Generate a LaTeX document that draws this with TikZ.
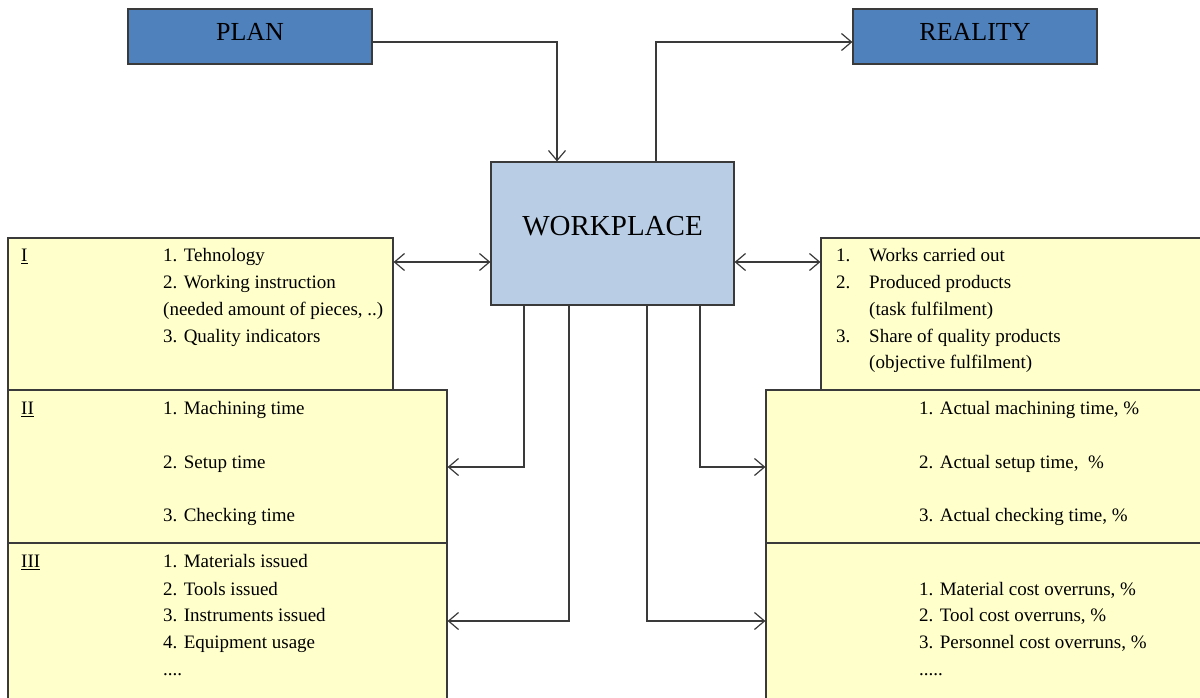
\documentclass[tikz,border=0pt]{standalone}
\usepackage{fontspec}
\setmainfont{Liberation Serif}
\usetikzlibrary{arrows.meta}
\definecolor{planblue}{HTML}{4F81BD}
\definecolor{wpblue}{HTML}{B9CDE5}
\definecolor{boxyellow}{HTML}{FFFFCC}
\definecolor{edge}{HTML}{3A3A3A}
\tikzset{
  topbox/.style={draw=edge, line width=1.2pt, fill=planblue, minimum width=244pt, minimum height=55pt, inner sep=0pt},
  wpbox/.style={draw=edge, line width=1.2pt, fill=wpblue, minimum width=243pt, minimum height=143pt, inner sep=0pt},
  ybox/.style={draw=edge, line width=1.2pt, fill=boxyellow, inner sep=0pt},
  big/.style={font=\fontsize{26}{30}\selectfont, inner sep=0pt},
  item/.style={anchor=west, font=\fontsize{19}{22}\selectfont, inner sep=0pt, text height=12.5pt, text depth=4pt},
  conn/.style={draw=edge, line width=1.1pt},
  tip/.style={-{Straight Barb[length=10pt,width=17pt,line width=1.2pt]}},
  tips/.style={{Straight Barb[length=10pt,width=17pt,line width=1.2pt]}-{Straight Barb[length=10pt,width=17pt,line width=1.2pt]}}
}
\begin{document}
\begin{tikzpicture}[x=1pt,y=-1pt]
\useasboundingbox (0,0) rectangle (1200,697);
% top boxes
\node[topbox] (PLAN) at (250,36.5) {};
\node[big] (plant) at (250,32) {PLAN};
\node[topbox] (REAL) at (975,36.5) {};
\node[big] (realt) at (975,32) {REALITY};
% workplace
\node[wpbox] (WP) at (612.5,233.5) {};
\node[font=\fontsize{29}{33}\selectfont, inner sep=0pt] (wpt) at (612.5,226) {WORKPLACE};
% left boxes
\node[ybox, minimum width=385pt, minimum height=152pt] (B1) at (200.5,314) {};
\node[ybox, minimum width=439pt, minimum height=153pt] (B2) at (227.5,466.5) {};
\node[ybox, minimum width=439pt, minimum height=160pt] (B3) at (227.5,623) {};
% right boxes
\node[ybox, minimum width=384pt, minimum height=152pt] (R1) at (1013,314) {};
\node[ybox, minimum width=439pt, minimum height=153pt] (R2) at (985.5,466.5) {};
\node[ybox, minimum width=439pt, minimum height=160pt] (R3) at (985.5,623) {};
% left texts
\node[item] (n1) at (21,257.5) {\underline{I}};
\node[item] (l11) at (163,257.5) {1. Tehnology};
\node[item] (l12) at (163,284.5) {2. Working instruction};
\node[item] (l13) at (163,311.5) {(needed amount of pieces, ..)};
\node[item] (l14) at (163,338.5) {3. Quality indicators};
\node[item] (n2) at (21,410.5) {\underline{II}};
\node[item] (l21) at (163,410.5) {1. Machining time};
\node[item] (l22) at (163,464.5) {2. Setup time};
\node[item] (l23) at (163,517.5) {3. Checking time};
\node[item] (n3) at (21,563.5) {\underline{III}};
\node[item] (l31) at (163,563.5) {1. Materials issued};
\node[item] (l32) at (163,591) {2. Tools issued};
\node[item] (l33) at (163,617.5) {3. Instruments issued};
\node[item] (l34) at (163,644.5) {4. Equipment usage};
\node[item] (l35) at (163,671.5) {....};
% right texts
\node[item] (r11n) at (836,257.5) {1.};
\node[item] (r11) at (869,257.5) {Works carried out};
\node[item] (r12n) at (836,284.5) {2.};
\node[item] (r12) at (869,284.5) {Produced products};
\node[item] (r13) at (869,311.5) {(task fulfilment)};
\node[item] (r14n) at (836,338.5) {3.};
\node[item] (r14) at (869,338.5) {Share of quality products};
\node[item] (r15) at (869,364.5) {(objective fulfilment)};
\node[item] (r21) at (919,410.5) {1. Actual machining time, \%};
\node[item] (r22) at (919,464.5) {2. Actual setup time,\ \ \%};
\node[item] (r23) at (919,517.5) {3. Actual checking time, \%};
\node[item] (r31) at (919,591) {1. Material cost overruns, \%};
\node[item] (r32) at (919,617.5) {2. Tool cost overruns, \%};
\node[item] (r33) at (919,644.5) {3. Personnel cost overruns, \%};
\node[item] (r34) at (919,671.5) {.....};
% connector coordinates
\coordinate (pj) at (557,42);
\coordinate (rj) at (656,42);
\coordinate (hj) at (0,262);
\coordinate (c1) at (524,467);
\coordinate (c2) at (569,621);
\coordinate (c3) at (647,621);
\coordinate (c4) at (700,467);
% connectors
\draw[conn,tip] (PLAN.east |- pj) -| (WP.north -| pj);
\draw[conn,tip] (WP.north -| rj) |- (REAL.west |- rj);
\draw[conn,tips] (B1.east |- hj) -- (WP.west |- hj);
\draw[conn,tips] (WP.east |- hj) -- (R1.west |- hj);
\draw[conn,tip] (WP.south -| c1) |- (B2.east |- c1);
\draw[conn,tip] (WP.south -| c2) |- (B3.east |- c2);
\draw[conn,tip] (WP.south -| c3) |- (R3.west |- c3);
\draw[conn,tip] (WP.south -| c4) |- (R2.west |- c4);
\end{tikzpicture}
\end{document}
